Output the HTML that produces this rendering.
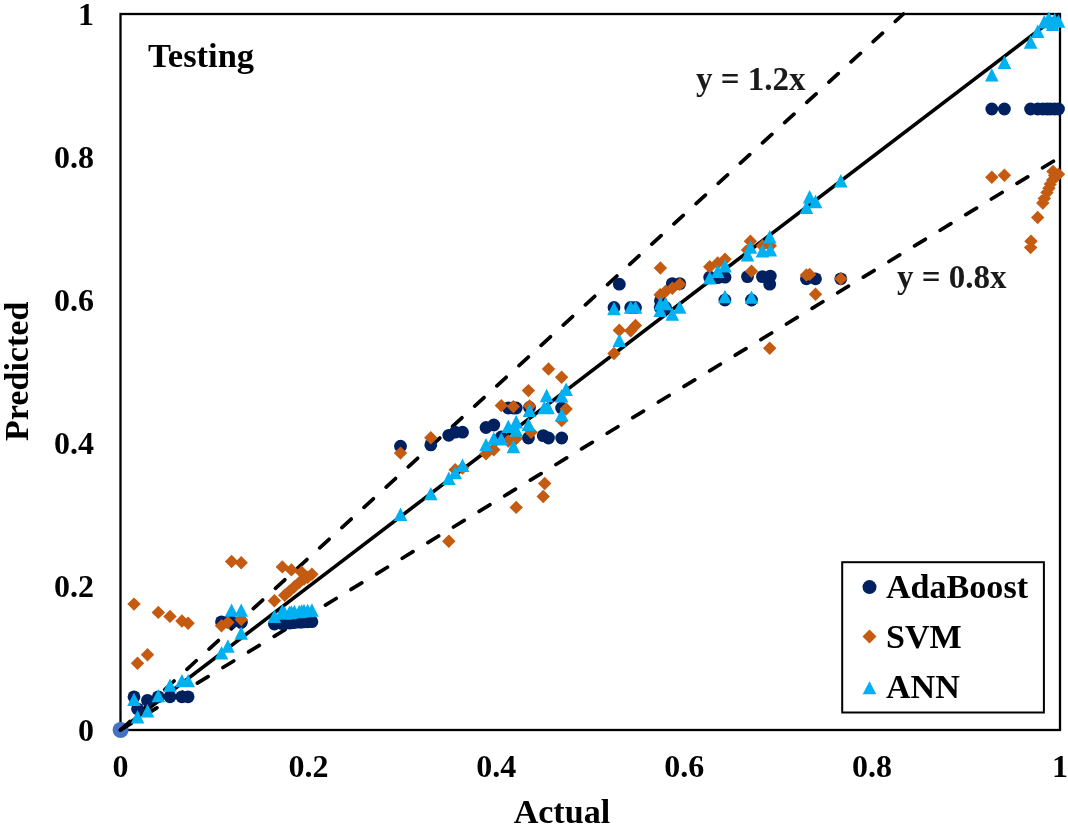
<!DOCTYPE html>
<html><head><meta charset="utf-8"><title>Testing: Predicted vs Actual</title>
<style>
html,body{margin:0;padding:0;background:#fff;}
body{width:1068px;height:828px;overflow:hidden;}
svg{display:block;will-change:transform;}
text{font-family:"Liberation Serif",serif;font-weight:bold;}
</style></head>
<body>
<svg width="1068" height="828" viewBox="0 0 1068 828">
<rect width="1068" height="828" fill="#fff"/>
<rect x="120.5" y="14" width="939.5" height="716" fill="none" stroke="#000" stroke-width="2.3"/>
<circle cx="120.6" cy="730" r="8" fill="#4472C4"/>
<line x1="120.5" y1="730" x2="1060" y2="14" stroke="#000" stroke-width="3.6"/>
<line x1="120.5" y1="730" x2="903.4" y2="14" stroke="#000" stroke-width="3.7" stroke-dasharray="12.6 17.4" stroke-linecap="round"/>
<line x1="120.5" y1="730" x2="1060" y2="157.2" stroke="#000" stroke-width="3.7" stroke-dasharray="12.6 17.4" stroke-linecap="round"/>
<g fill="#002060"><circle cx="134" cy="696.8" r="6.4"/><circle cx="137.5" cy="708.8" r="6.4"/><circle cx="147.5" cy="700.4" r="6.4"/><circle cx="158.3" cy="696.8" r="6.4"/><circle cx="170" cy="696.8" r="6.4"/><circle cx="181.9" cy="696.8" r="6.4"/><circle cx="188.1" cy="696.8" r="6.4"/><circle cx="221.5" cy="621.9" r="6.4"/><circle cx="227.9" cy="622" r="6.4"/><circle cx="231.6" cy="622" r="6.4"/><circle cx="241.2" cy="622" r="6.4"/><circle cx="241.2" cy="622.5" r="6.4"/><circle cx="274.4" cy="624" r="6.4"/><circle cx="282.3" cy="623.6" r="6.4"/><circle cx="284.7" cy="623.4" r="6.4"/><circle cx="289.5" cy="623" r="6.4"/><circle cx="291.4" cy="622.8" r="6.4"/><circle cx="294.4" cy="622.5" r="6.4"/><circle cx="299.2" cy="622.2" r="6.4"/><circle cx="301.6" cy="622" r="6.4"/><circle cx="304" cy="621.9" r="6.4"/><circle cx="307.7" cy="621.8" r="6.4"/><circle cx="311.9" cy="621.7" r="6.4"/><circle cx="400.5" cy="446.2" r="6.4"/><circle cx="430.8" cy="444.9" r="6.4"/><circle cx="448.8" cy="435.3" r="6.4"/><circle cx="455.2" cy="432.2" r="6.4"/><circle cx="462.5" cy="432.2" r="6.4"/><circle cx="486" cy="427.5" r="6.4"/><circle cx="493.8" cy="425" r="6.4"/><circle cx="501.3" cy="437" r="6.4"/><circle cx="508.3" cy="408" r="6.4"/><circle cx="513.4" cy="408" r="6.4"/><circle cx="516.2" cy="408" r="6.4"/><circle cx="528.4" cy="438" r="6.4"/><circle cx="529.5" cy="407.5" r="6.4"/><circle cx="543.2" cy="435.6" r="6.4"/><circle cx="548.5" cy="438" r="6.4"/><circle cx="561.6" cy="408" r="6.4"/><circle cx="561.7" cy="438" r="6.4"/><circle cx="614" cy="307.5" r="6.4"/><circle cx="619.3" cy="284.2" r="6.4"/><circle cx="630.7" cy="307.5" r="6.4"/><circle cx="635.5" cy="307.5" r="6.4"/><circle cx="660.4" cy="300.8" r="6.4"/><circle cx="660.2" cy="307.5" r="6.4"/><circle cx="665.5" cy="307.5" r="6.4"/><circle cx="672.3" cy="283.6" r="6.4"/><circle cx="679.7" cy="283.6" r="6.4"/><circle cx="709.7" cy="277.2" r="6.4"/><circle cx="717.7" cy="277.7" r="6.4"/><circle cx="725" cy="277.2" r="6.4"/><circle cx="724.9" cy="300" r="6.4"/><circle cx="747.5" cy="276.6" r="6.4"/><circle cx="751.5" cy="300" r="6.4"/><circle cx="762.4" cy="276.6" r="6.4"/><circle cx="770.3" cy="276.1" r="6.4"/><circle cx="769.7" cy="284.2" r="6.4"/><circle cx="806.4" cy="278.8" r="6.4"/><circle cx="815.5" cy="278.8" r="6.4"/><circle cx="840.8" cy="278.8" r="6.4"/><circle cx="991.8" cy="109" r="6.4"/><circle cx="1004.4" cy="109" r="6.4"/><circle cx="1030.6" cy="109" r="6.4"/><circle cx="1037.7" cy="109" r="6.4"/><circle cx="1042.8" cy="109" r="6.4"/><circle cx="1047" cy="109" r="6.4"/><circle cx="1050.4" cy="109" r="6.4"/><circle cx="1054.6" cy="109" r="6.4"/><circle cx="1058.5" cy="109" r="6.4"/></g>
<path fill="#C55A11" d="M134 597.4l6.7 6.7l-6.7 6.7l-6.7 -6.7zM137.5 656.5l6.7 6.7l-6.7 6.7l-6.7 -6.7zM147.5 648l6.7 6.7l-6.7 6.7l-6.7 -6.7zM158.3 605.7l6.7 6.7l-6.7 6.7l-6.7 -6.7zM170 609.7l6.7 6.7l-6.7 6.7l-6.7 -6.7zM181.9 614.3l6.7 6.7l-6.7 6.7l-6.7 -6.7zM188.1 616.6l6.7 6.7l-6.7 6.7l-6.7 -6.7zM221.5 619.1l6.7 6.7l-6.7 6.7l-6.7 -6.7zM227.9 615.8l6.7 6.7l-6.7 6.7l-6.7 -6.7zM231.6 554.8l6.7 6.7l-6.7 6.7l-6.7 -6.7zM241.2 556l6.7 6.7l-6.7 6.7l-6.7 -6.7zM241.2 612.8l6.7 6.7l-6.7 6.7l-6.7 -6.7zM274.4 594l6.7 6.7l-6.7 6.7l-6.7 -6.7zM282.3 560.2l6.7 6.7l-6.7 6.7l-6.7 -6.7zM284.7 588.6l6.7 6.7l-6.7 6.7l-6.7 -6.7zM289.5 584.4l6.7 6.7l-6.7 6.7l-6.7 -6.7zM291.4 563.2l6.7 6.7l-6.7 6.7l-6.7 -6.7zM294.4 580.1l6.7 6.7l-6.7 6.7l-6.7 -6.7zM299.2 575.9l6.7 6.7l-6.7 6.7l-6.7 -6.7zM301.6 565.6l6.7 6.7l-6.7 6.7l-6.7 -6.7zM304 572.3l6.7 6.7l-6.7 6.7l-6.7 -6.7zM307.7 570.5l6.7 6.7l-6.7 6.7l-6.7 -6.7zM311.9 567.5l6.7 6.7l-6.7 6.7l-6.7 -6.7zM400.5 446.4l6.7 6.7l-6.7 6.7l-6.7 -6.7zM430.8 431l6.7 6.7l-6.7 6.7l-6.7 -6.7zM448.8 534.6l6.7 6.7l-6.7 6.7l-6.7 -6.7zM455.2 463l6.7 6.7l-6.7 6.7l-6.7 -6.7zM462.5 461.3l6.7 6.7l-6.7 6.7l-6.7 -6.7zM486 447.1l6.7 6.7l-6.7 6.7l-6.7 -6.7zM493.8 443l6.7 6.7l-6.7 6.7l-6.7 -6.7zM501.3 398.9l6.7 6.7l-6.7 6.7l-6.7 -6.7zM508.3 434.3l6.7 6.7l-6.7 6.7l-6.7 -6.7zM513.4 399.9l6.7 6.7l-6.7 6.7l-6.7 -6.7zM516.2 500.7l6.7 6.7l-6.7 6.7l-6.7 -6.7zM516.2 431.8l6.7 6.7l-6.7 6.7l-6.7 -6.7zM528.4 383.9l6.7 6.7l-6.7 6.7l-6.7 -6.7zM529.5 399.3l6.7 6.7l-6.7 6.7l-6.7 -6.7zM531.1 425.5l6.7 6.7l-6.7 6.7l-6.7 -6.7zM543.2 489.8l6.7 6.7l-6.7 6.7l-6.7 -6.7zM544.7 476.8l6.7 6.7l-6.7 6.7l-6.7 -6.7zM548.5 362.3l6.7 6.7l-6.7 6.7l-6.7 -6.7zM561.6 370.6l6.7 6.7l-6.7 6.7l-6.7 -6.7zM561.7 413.9l6.7 6.7l-6.7 6.7l-6.7 -6.7zM566.1 402.3l6.7 6.7l-6.7 6.7l-6.7 -6.7zM614 346.8l6.7 6.7l-6.7 6.7l-6.7 -6.7zM619.3 323.6l6.7 6.7l-6.7 6.7l-6.7 -6.7zM630.7 324l6.7 6.7l-6.7 6.7l-6.7 -6.7zM635.5 318.7l6.7 6.7l-6.7 6.7l-6.7 -6.7zM660.4 261.3l6.7 6.7l-6.7 6.7l-6.7 -6.7zM660.2 288.1l6.7 6.7l-6.7 6.7l-6.7 -6.7zM665.5 284.8l6.7 6.7l-6.7 6.7l-6.7 -6.7zM672.3 281.5l6.7 6.7l-6.7 6.7l-6.7 -6.7zM679.7 277.5l6.7 6.7l-6.7 6.7l-6.7 -6.7zM709.7 260.1l6.7 6.7l-6.7 6.7l-6.7 -6.7zM717.7 256.3l6.7 6.7l-6.7 6.7l-6.7 -6.7zM725 252.5l6.7 6.7l-6.7 6.7l-6.7 -6.7zM747.5 243.3l6.7 6.7l-6.7 6.7l-6.7 -6.7zM750.4 234.6l6.7 6.7l-6.7 6.7l-6.7 -6.7zM751.5 264.5l6.7 6.7l-6.7 6.7l-6.7 -6.7zM762.4 239l6.7 6.7l-6.7 6.7l-6.7 -6.7zM770.3 239l6.7 6.7l-6.7 6.7l-6.7 -6.7zM769.7 341.6l6.7 6.7l-6.7 6.7l-6.7 -6.7zM806.4 268.3l6.7 6.7l-6.7 6.7l-6.7 -6.7zM809.6 267.7l6.7 6.7l-6.7 6.7l-6.7 -6.7zM815.5 287.6l6.7 6.7l-6.7 6.7l-6.7 -6.7zM840.8 272.1l6.7 6.7l-6.7 6.7l-6.7 -6.7zM991.8 170.6l6.7 6.7l-6.7 6.7l-6.7 -6.7zM1004.4 168.6l6.7 6.7l-6.7 6.7l-6.7 -6.7zM1030.6 240.8l6.7 6.7l-6.7 6.7l-6.7 -6.7zM1031 234.5l6.7 6.7l-6.7 6.7l-6.7 -6.7zM1037.7 210.8l6.7 6.7l-6.7 6.7l-6.7 -6.7zM1042.8 196.3l6.7 6.7l-6.7 6.7l-6.7 -6.7zM1044.3 191.7l6.7 6.7l-6.7 6.7l-6.7 -6.7zM1047 185.8l6.7 6.7l-6.7 6.7l-6.7 -6.7zM1048.9 181.6l6.7 6.7l-6.7 6.7l-6.7 -6.7zM1050.4 177.4l6.7 6.7l-6.7 6.7l-6.7 -6.7zM1052.7 173.2l6.7 6.7l-6.7 6.7l-6.7 -6.7zM1054.6 168.9l6.7 6.7l-6.7 6.7l-6.7 -6.7zM1053 164.7l6.7 6.7l-6.7 6.7l-6.7 -6.7zM1058.5 167.6l6.7 6.7l-6.7 6.7l-6.7 -6.7z"/>
<path fill="#00B0F0" d="M134 692.7l6.8 13.4h-13.6zM137.5 710l6.8 13.4h-13.6zM147.5 704l6.8 13.4h-13.6zM158.3 688.9l6.8 13.4h-13.6zM170 678.4l6.8 13.4h-13.6zM181.9 673.9l6.8 13.4h-13.6zM188.1 673.9l6.8 13.4h-13.6zM221.5 646l6.8 13.4h-13.6zM227.9 639.3l6.8 13.4h-13.6zM231.6 603.4l6.8 13.4h-13.6zM241.2 603.4l6.8 13.4h-13.6zM241.2 626.4l6.8 13.4h-13.6zM274.4 609.6l6.8 13.4h-13.6zM282.3 604.3l6.8 13.4h-13.6zM284.7 606.3l6.8 13.4h-13.6zM289.5 605.8l6.8 13.4h-13.6zM291.4 605.3l6.8 13.4h-13.6zM294.4 604.8l6.8 13.4h-13.6zM299.2 604.8l6.8 13.4h-13.6zM301.6 604.3l6.8 13.4h-13.6zM304 603.8l6.8 13.4h-13.6zM307.7 603.8l6.8 13.4h-13.6zM311.9 603.3l6.8 13.4h-13.6zM400.5 507.6l6.8 13.4h-13.6zM430.8 486.9l6.8 13.4h-13.6zM448.8 471.6l6.8 13.4h-13.6zM455.2 465.8l6.8 13.4h-13.6zM462.5 458.5l6.8 13.4h-13.6zM486 437.9l6.8 13.4h-13.6zM493.8 431.8l6.8 13.4h-13.6zM501.3 432.2l6.8 13.4h-13.6zM508.3 419.7l6.8 13.4h-13.6zM513.4 439.8l6.8 13.4h-13.6zM516.2 415.1l6.8 13.4h-13.6zM516.2 423.3l6.8 13.4h-13.6zM528.4 417.5l6.8 13.4h-13.6zM529.5 403.7l6.8 13.4h-13.6zM546.6 388.8l6.8 13.4h-13.6zM544.2 400.8l6.8 13.4h-13.6zM548 400.8l6.8 13.4h-13.6zM561.6 389l6.8 13.4h-13.6zM561.7 408.1l6.8 13.4h-13.6zM566.1 382.5l6.8 13.4h-13.6zM614 301.8l6.8 13.4h-13.6zM619.3 333.6l6.8 13.4h-13.6zM630.7 300.4l6.8 13.4h-13.6zM635.5 300.4l6.8 13.4h-13.6zM660.4 296.8l6.8 13.4h-13.6zM660.2 303.7l6.8 13.4h-13.6zM665.5 296.8l6.8 13.4h-13.6zM672.3 307.4l6.8 13.4h-13.6zM679.7 300.4l6.8 13.4h-13.6zM709.7 271l6.8 13.4h-13.6zM717.7 264.5l6.8 13.4h-13.6zM725 259.1l6.8 13.4h-13.6zM724.9 289.8l6.8 13.4h-13.6zM747.5 248.2l6.8 13.4h-13.6zM750.4 240.4l6.8 13.4h-13.6zM751.5 290.4l6.8 13.4h-13.6zM762.4 244.1l6.8 13.4h-13.6zM770.3 243l6.8 13.4h-13.6zM769.7 230.1l6.8 13.4h-13.6zM806.4 200.6l6.8 13.4h-13.6zM809.6 190l6.8 13.4h-13.6zM815.5 194.8l6.8 13.4h-13.6zM840.8 174.1l6.8 13.4h-13.6zM991.8 68.2l6.8 13.4h-13.6zM1004.4 55.6l6.8 13.4h-13.6zM1030.6 35.3l6.8 13.4h-13.6zM1037.7 24.5l6.8 13.4h-13.6zM1044.3 15l6.8 13.4h-13.6zM1048.9 11.4l6.8 13.4h-13.6zM1052.7 17.6l6.8 13.4h-13.6zM1054.6 12.9l6.8 13.4h-13.6zM1058.5 14.3l6.8 13.4h-13.6z"/>
<rect x="842.2" y="562.2" width="201.7" height="150.3" fill="#fff" stroke="#000" stroke-width="2"/>
<circle cx="869.5" cy="587.1" r="7" fill="#002060"/>
<path fill="#C55A11" d="M869.5 629.6l7 7l-7 7l-7 -7z"/>
<path fill="#00B0F0" d="M869.5 681.2l6.8 13h-13.6z"/>
<g>
<text x="886" y="598" font-size="34.1" text-anchor="start" fill="#000">AdaBoost</text>
<text x="886" y="647.5" font-size="34.1" text-anchor="start" fill="#000">SVM</text>
<text x="886" y="698.2" font-size="34.1" text-anchor="start" fill="#000">ANN</text>
<text x="148" y="66.5" font-size="34.5" text-anchor="start" fill="#000">Testing</text>
<text x="696" y="89.9" font-size="33" text-anchor="start" fill="#1a1a1a">y = 1.2x</text>
<text x="897" y="287.8" font-size="33" text-anchor="start" fill="#1a1a1a">y = 0.8x</text>
<text x="561.9" y="822.7" font-size="34.1" text-anchor="middle" fill="#000">Actual</text>
<text transform="translate(28 371.3) rotate(-90)" font-size="34.1" text-anchor="middle">Predicted</text>
<text x="120.5" y="777" font-size="32" text-anchor="middle" fill="#000">0</text>
<text x="94" y="740.5" font-size="32" text-anchor="end" fill="#000">0</text>
<text x="308.4" y="777" font-size="32" text-anchor="middle" fill="#000">0.2</text>
<text x="94" y="597.3" font-size="32" text-anchor="end" fill="#000">0.2</text>
<text x="496.3" y="777" font-size="32" text-anchor="middle" fill="#000">0.4</text>
<text x="94" y="454.1" font-size="32" text-anchor="end" fill="#000">0.4</text>
<text x="684.2" y="777" font-size="32" text-anchor="middle" fill="#000">0.6</text>
<text x="94" y="310.9" font-size="32" text-anchor="end" fill="#000">0.6</text>
<text x="872.1" y="777" font-size="32" text-anchor="middle" fill="#000">0.8</text>
<text x="94" y="167.7" font-size="32" text-anchor="end" fill="#000">0.8</text>
<text x="1060" y="777" font-size="32" text-anchor="middle" fill="#000">1</text>
<text x="94" y="24.5" font-size="32" text-anchor="end" fill="#000">1</text>
</g>
</svg>
</body></html>
